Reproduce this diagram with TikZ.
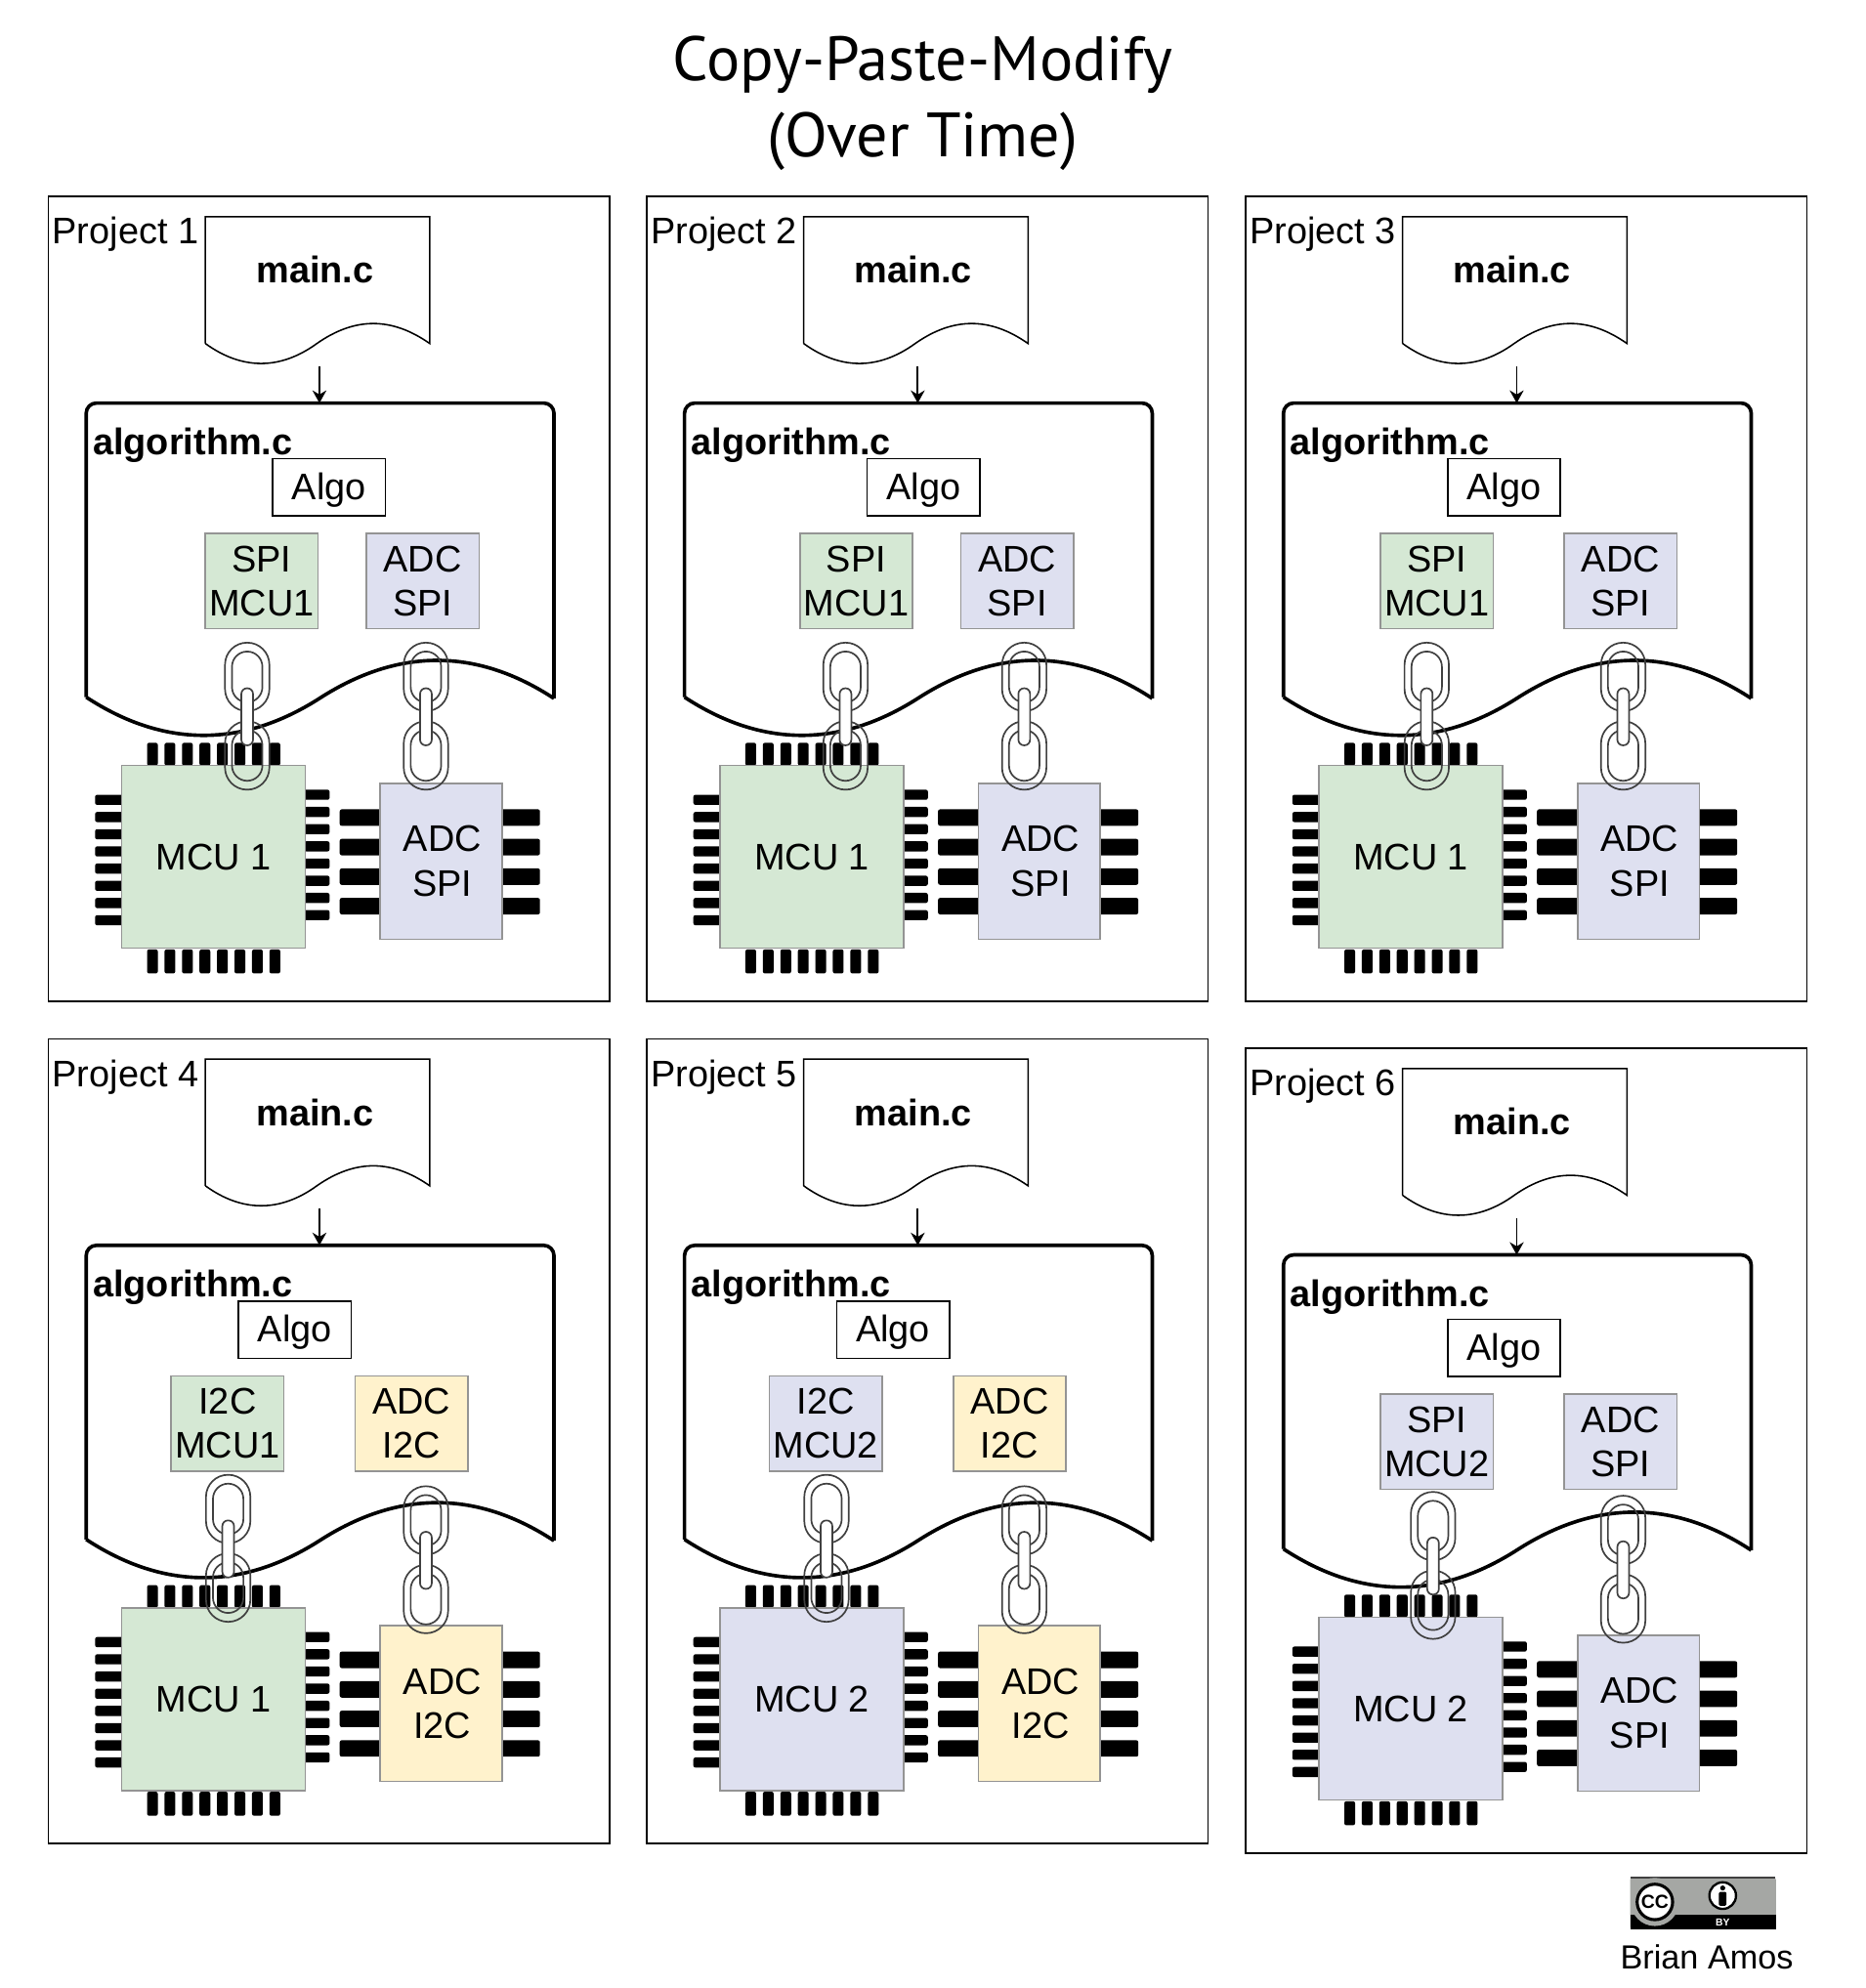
\documentclass[tikz,border=0pt]{standalone}
\usepackage{fontspec}
\setmainfont{Liberation Sans}
\newfontfamily\titlefont{PT Sans}
\usetikzlibrary{arrows.meta}
\definecolor{mcugreen}{HTML}{D5E8D4}
\definecolor{adclav}{HTML}{DEE0F0}
\definecolor{adcyellow}{HTML}{FFF2CC}
\definecolor{ccgray}{HTML}{A5A7A4}
\tikzset{
	partedge/.style={draw=black!42, line width=0.6pt},
	partfont/.style={font=\fontsize{14.6pt}{17.5pt}\selectfont, align=center, inner sep=0pt},
	modulebox/.style={partedge, partfont, minimum width=44.5pt, minimum height=37.5pt},
	algobox/.style={draw=black, line width=0.6pt, partfont, text depth=1.07pt, minimum width=44.5pt, minimum height=22.5pt},
	chippin/.style={fill=black, rounded corners=0.8pt},
	linkring/.style={draw=black!75, line width=0.65pt},
}
% pins, body and text of the two chips
\def\mcuchip#1#2{
	\foreach \i in {0,...,7} {
		\fill[chippin] ({116+13.8*\i}, 586) rectangle ({124.5+13.8*\i}, 604);
		\fill[chippin] ({116+13.8*\i}, 749) rectangle ({124.5+13.8*\i}, 768);
		\fill[chippin] (75, {627+13.57*\i}) rectangle (97, {635+13.57*\i});
		\fill[chippin] (240, {623+13.57*\i}) rectangle (260, {631+13.57*\i});
	}
	\node[partedge, partfont, fill=#1, minimum width=72.5pt, minimum height=72pt] (mcu) at (168.5, 676) {#2};
}
\def\adcchip#1#2{
	\foreach \i in {0,...,3} {
		\fill[chippin] (268, {638.5+23.3*\i}) rectangle (301, {651.5+23.3*\i});
		\fill[chippin] (395, {638.5+23.3*\i}) rectangle (426, {651.5+23.3*\i});
	}
	\node[partedge, partfont, fill=#1, minimum width=48pt, minimum height=61.5pt] (adc) at (348, 679.5) {\hspace*{1pt}ADC\\\hspace*{1pt}#2};
}
% frame, main.c, the arrow and algorithm.c
\def\projectfiles#1{
	\draw[line width=0.6pt] (38, 155) rectangle (481, 790);
	\node[partfont, anchor=west] (label) at (41, 185) {#1};
	\draw[line width=0.6pt] (162, 271) -- (162, 171) -- (339, 171) -- (339, 271)
		.. controls (309, 250) and (280, 250) .. (250, 271)
		.. controls (221, 292) and (191, 292) .. (162, 271);
	\node[partfont] (main) at (248.5, 213) {\textbf{main.c}};
	\coordinate (mainout) at (252, 289);
	\coordinate (algoin) at (252, 318);
	\draw[-{Stealth[length=5pt, width=5.5pt]}, line width=0.7pt] (mainout) -- (algoin);
	\draw[line width=1.4pt, rounded corners=4pt] (68, 550) -- (68, 318) -- (437, 318) -- (437, 551);
	\draw[line width=1.4pt] (68, 550)
		.. controls (129, 590) and (191, 590) .. (252, 551)
		.. controls (314, 511) and (376, 511) .. (437, 551);
	\node[partfont, anchor=west] (algorithm) at (73, 351.5) {\textbf{algorithm.c}};
}
% two rings and the white link between them
\def\chainlink#1#2{
	\begin{scope}[shift={(#1, #2)}]
		\foreach \ytop in {0, 62} {
			\draw[linkring, rounded corners=8.7pt] (-17.5, \ytop) rectangle (17.5, {\ytop+54});
			\draw[linkring, rounded corners=6pt] (-12, {\ytop+7}) rectangle (12, {\ytop+47});
		}
		\draw[linkring, fill=white, rounded corners=2.2pt] (-4.6, 36) rectangle (4.6, 81);
	\end{scope}
}
\begin{document}
\begin{tikzpicture}[x=0.5pt, y=-0.5pt]
	\useasboundingbox (0, 0) rectangle (1472, 1568.4);
	
	\node[font=\titlefont\fontsize{24.7pt}{30pt}\selectfont, align=center] (title) at (728, 81.5) {Copy-Paste-Modify\\(Over Time)};
	
	%%%%% PROJECT 1 %%%%%
	\begin{scope}[name prefix=pa-]
		\mcuchip{mcugreen}{MCU 1}
		\adcchip{adclav}{SPI}
		\projectfiles{Project 1}
		\node[algobox] (algo) at (259.5, 384.5) {Algo};
		\node[modulebox, fill=mcugreen] (bus) at (206.5, 458.5) {SPI\\MCU1};
		\node[modulebox, fill=adclav] (drv) at (333.5, 458.5) {ADC\\SPI};
		\chainlink{195}{507}
		\chainlink{336}{507}
	\end{scope}
	
	%%%%% PROJECT 2 %%%%%
	\begin{scope}[shift={(472, 0)}, name prefix=pb-]
		\mcuchip{mcugreen}{MCU 1}
		\adcchip{adclav}{SPI}
		\projectfiles{Project 2}
		\node[algobox] (algo) at (256.5, 384.5) {Algo};
		\node[modulebox, fill=mcugreen] (bus) at (203.5, 458.5) {SPI\\MCU1};
		\node[modulebox, fill=adclav] (drv) at (330.5, 458.5) {ADC\\SPI};
		\chainlink{195}{507}
		\chainlink{336}{507}
	\end{scope}
	
	%%%%% PROJECT 3 %%%%%
	\begin{scope}[shift={(944.5, 0)}, name prefix=pc-]
		\mcuchip{mcugreen}{MCU 1}
		\adcchip{adclav}{SPI}
		\projectfiles{Project 3}
		\node[algobox] (algo) at (242, 384.5) {Algo};
		\node[modulebox, fill=mcugreen] (bus) at (189, 458.5) {SPI\\MCU1};
		\node[modulebox, fill=adclav] (drv) at (334, 458.5) {ADC\\SPI};
		\chainlink{181}{507}
		\chainlink{336}{507}
	\end{scope}
	
	%%%%% PROJECT 4 %%%%%
	\begin{scope}[shift={(0, 664.5)}, name prefix=pd-]
		\mcuchip{mcugreen}{MCU 1}
		\adcchip{adcyellow}{I2C}
		\projectfiles{Project 4}
		\node[algobox] (algo) at (232.5, 384.5) {Algo};
		\node[modulebox, fill=mcugreen] (bus) at (179.5, 458.5) {I2C\\MCU1};
		\node[modulebox, fill=adcyellow] (drv) at (324.5, 458.5) {ADC\\I2C};
		\chainlink{180}{499}
		\chainlink{336}{508}
	\end{scope}
	
	%%%%% PROJECT 5 %%%%%
	\begin{scope}[shift={(472, 664.5)}, name prefix=pe-]
		\mcuchip{adclav}{MCU 2}
		\adcchip{adcyellow}{I2C}
		\projectfiles{Project 5}
		\node[algobox] (algo) at (232.5, 384.5) {Algo};
		\node[modulebox, fill=adclav] (bus) at (179.5, 458.5) {I2C\\MCU2};
		\node[modulebox, fill=adcyellow] (drv) at (324.5, 458.5) {ADC\\I2C};
		\chainlink{180}{499}
		\chainlink{336}{508}
	\end{scope}
	
	%%%%% PROJECT 6 %%%%%
	\begin{scope}[shift={(944.5, 672)}, name prefix=pf-]
		\mcuchip{adclav}{MCU 2}
		\adcchip{adclav}{SPI}
		\projectfiles{Project 6}
		\node[algobox] (algo) at (242, 391.5) {Algo};
		\node[modulebox, fill=adclav] (bus) at (189, 465.5) {SPI\\MCU2};
		\node[modulebox, fill=adclav] (drv) at (334, 465.5) {ADC\\SPI};
		\chainlink{186}{505}
		\chainlink{336}{508}
	\end{scope}
	
	%%%%% LICENCE BADGE %%%%%
	\fill[ccgray, rounded corners=1pt] (1286, 1481) rectangle (1401, 1522);
	\draw[black!75, line width=0.7pt] (1286.5, 1481.5) -- (1400.5, 1481.5);
	\fill[black] (1286, 1510.5) rectangle (1401, 1522);
	\fill[ccgray] (1305.5, 1500.5) circle (19);
	\fill[ccgray] (1286, 1500) rectangle (1324, 1510.5);
	\draw[black, fill=white, line width=1.2pt] (1305.5, 1500.5) circle (14);
	\node[font=\fontsize{7.5pt}{8pt}\bfseries\selectfont, inner sep=0pt] (ccmark) at (1305.5, 1500.5) {CC};
	\draw[black, fill=white, line width=0.9pt] (1359, 1495.5) circle (10.5);
	\fill[black] (1359, 1489.5) circle (2);
	\fill[black, rounded corners=0.5pt] (1356, 1492.5) rectangle (1362, 1503.5);
	\node[font=\fontsize{4pt}{4pt}\bfseries\selectfont, text=white, inner sep=0pt] (bymark) at (1359, 1516.5) {BY};
	\node[font=\fontsize{13.2pt}{15pt}\selectfont, inner sep=0pt] (author) at (1346.5, 1544) {Brian Amos};
	
\end{tikzpicture}
\end{document}
